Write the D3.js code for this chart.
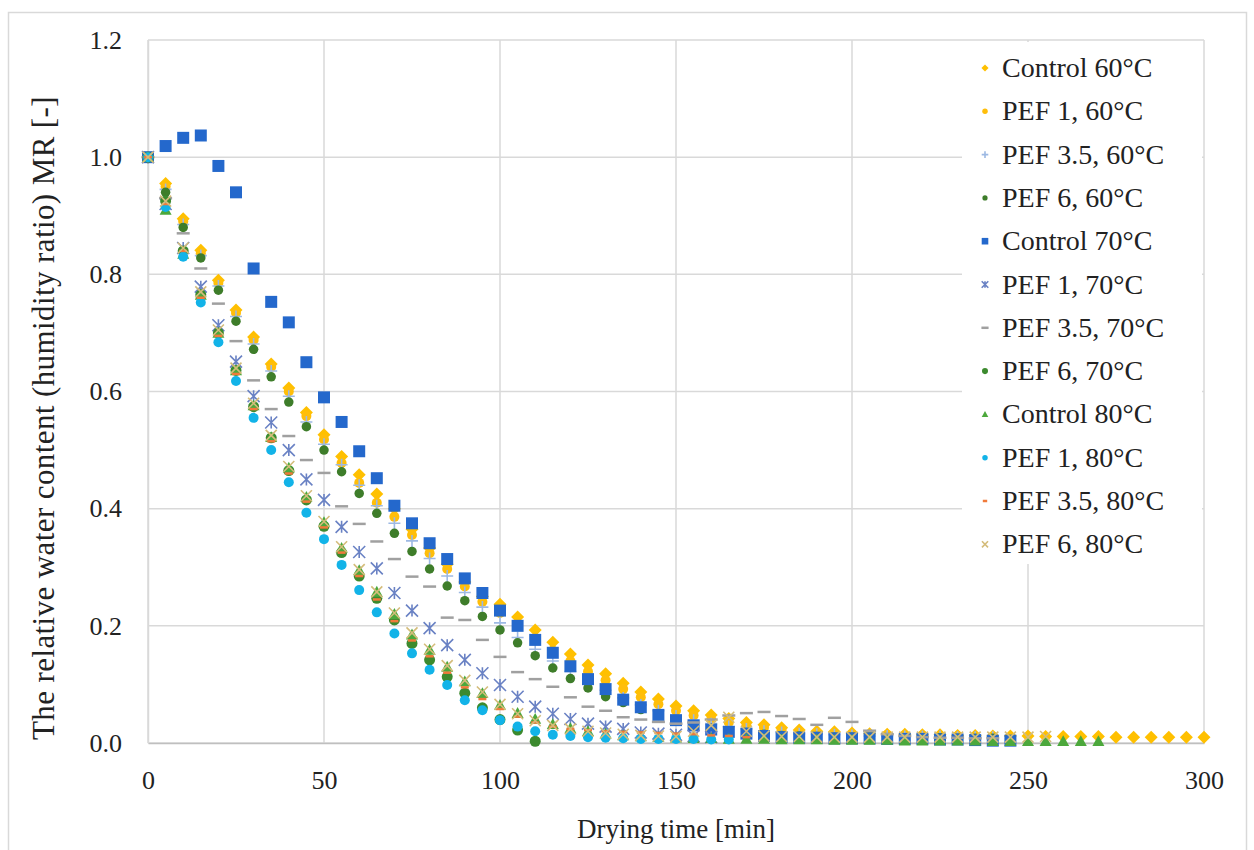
<!DOCTYPE html>
<html>
<head>
<meta charset="utf-8">
<script src="https://cdn.jsdelivr.net/npm/d3@7"></script>
<style>
  html, body { margin: 0; padding: 0; background: #fff; }
  svg { display: block; }
  svg text { font-family: "Liberation Serif", "Times New Roman", "DejaVu Serif", serif !important; fill: #222; }
</style>
</head>
<body>
<svg id="chart" width="1254" height="850"></svg>
<script>
// Drying time axis (min); every series is sampled every 5 minutes from t = 0
const step = 5;
const xTicks = [0, 50, 100, 150, 200, 250, 300];
const yTicks = [0, 0.2, 0.4, 0.6, 0.8, 1.0, 1.2];

const seriesNames = [
  "Control 60°C", "PEF 1, 60°C", "PEF 3.5, 60°C", "PEF 6, 60°C",
  "Control 70°C", "PEF 1, 70°C", "PEF 3.5, 70°C", "PEF 6, 70°C",
  "Control 80°C", "PEF 1, 80°C", "PEF 3.5, 80°C", "PEF 6, 80°C"
];

// Moisture ratio MR for each series
const control60 = [1.0,0.955,0.895,0.841,0.79,0.739,0.693,0.647,0.606,0.564,0.526,0.489,0.458,0.425,0.4,0.365,0.333,0.305,0.275,0.25,0.237,0.215,0.193,0.172,0.152,0.133,0.118,0.102,0.087,0.075,0.063,0.055,0.048,0.042,0.035,0.031,0.026,0.022,0.02,0.019,0.017,0.016,0.015,0.015,0.014,0.014,0.013,0.013,0.012,0.012,0.012,0.011,0.011,0.011,0.011,0.01,0.01,0.01,0.01,0.01,0.01];
const pef1_60 = [1.0,0.95,0.89,0.836,0.785,0.734,0.688,0.642,0.6,0.558,0.518,0.478,0.444,0.41,0.386,0.355,0.324,0.297,0.267,0.241,0.222,0.2,0.178,0.158,0.14,0.122,0.107,0.092,0.078,0.066,0.055,0.047,0.04,0.035,0.03,0.026,0.022,0.019,0.017,0.016,0.015,0.014,0.014,0.013,0.013,0.012,0.012,0.011,0.011];
const pef35_60 = [1.0,0.945,0.885,0.832,0.78,0.728,0.681,0.635,0.592,0.548,0.51,0.475,0.44,0.405,0.375,0.345,0.315,0.285,0.257,0.232,0.205,0.18,0.16,0.14,0.122,0.105,0.09,0.077,0.065,0.055,0.046,0.039,0.033,0.028,0.024,0.02,0.018,0.016,0.015,0.014,0.013,0.012,0.012,0.011,0.011,0.011,0.01,0.01,0.01];
const pef6_60 = [1.0,0.94,0.88,0.828,0.773,0.72,0.672,0.625,0.582,0.54,0.5,0.463,0.426,0.392,0.358,0.327,0.297,0.268,0.243,0.216,0.193,0.171,0.149,0.128,0.11,0.094,0.079,0.069,0.057,0.047,0.038,0.031,0.025,0.021,0.018,0.015,0.013,0.012,0.011,0.01,0.01,0.01,0.009,0.009,0.009,0.009,0.008,0.008,0.008];
const control70 = [1.0,1.019,1.033,1.037,0.985,0.94,0.81,0.753,0.718,0.65,0.59,0.548,0.498,0.452,0.405,0.375,0.341,0.314,0.281,0.256,0.226,0.2,0.176,0.154,0.131,0.109,0.092,0.074,0.061,0.048,0.039,0.03,0.023,0.019,0.016,0.012,0.01,0.009,0.009,0.008,0.008,0.008,0.007,0.007,0.007,0.006,0.006,0.005,0.004,0.004];
const pef1_70 = [1.0,0.92,0.845,0.779,0.713,0.651,0.592,0.547,0.5,0.45,0.415,0.369,0.326,0.298,0.256,0.226,0.196,0.167,0.142,0.119,0.099,0.079,0.062,0.05,0.041,0.033,0.028,0.024,0.018,0.016,0.014,0.012,0.01];
const pef35_70 = [1.0,0.93,0.87,0.81,0.75,0.686,0.619,0.57,0.524,0.483,0.461,0.404,0.374,0.344,0.314,0.284,0.267,0.214,0.21,0.176,0.147,0.121,0.109,0.096,0.078,0.062,0.055,0.044,0.04,0.036,0.033,0.035,0.04,0.047,0.051,0.053,0.046,0.041,0.031,0.043,0.036,0.021,0.015,0.012,0.01,0.009,0.009,0.008,0.008];
const pef6_70 = [1.0,0.925,0.84,0.765,0.7,0.636,0.574,0.521,0.465,0.415,0.37,0.325,0.285,0.247,0.21,0.17,0.142,0.113,0.085,0.06,0.04,0.022,0.003];
const control80 = [1.0,0.91,0.835,0.765,0.7,0.636,0.576,0.522,0.47,0.42,0.377,0.333,0.295,0.258,0.22,0.185,0.159,0.13,0.105,0.085,0.065,0.051,0.041,0.032,0.025,0.02,0.016,0.013,0.011,0.01,0.009,0.008,0.008,0.007,0.007,0.007,0.006,0.006,0.006,0.005,0.005,0.005,0.005,0.004,0.004,0.004,0.004,0.004,0.003,0.003,0.003,0.003,0.003,0.003,0.003];
const pef1_80 = [1.0,0.915,0.83,0.752,0.684,0.618,0.555,0.5,0.445,0.393,0.348,0.304,0.261,0.223,0.187,0.153,0.125,0.099,0.073,0.056,0.039,0.028,0.02,0.014,0.012,0.01,0.009,0.008,0.007,0.007,0.007,0.007,0.006,0.006];
const pef35_80 = [1.0,0.92,0.84,0.76,0.695,0.63,0.57,0.515,0.46,0.412,0.368,0.325,0.285,0.245,0.208,0.175,0.148,0.12,0.095,0.075,0.058,0.045,0.035,0.028,0.024,0.022,0.02,0.019,0.018,0.017,0.016,0.015,0.013,0.012,0.01];
const pef6_80 = [1.0,0.925,0.845,0.77,0.705,0.64,0.58,0.525,0.472,0.422,0.378,0.335,0.296,0.258,0.222,0.188,0.16,0.132,0.107,0.087,0.066,0.05,0.038,0.03,0.024,0.02,0.017,0.015,0.013,0.012,0.011,0.02,0.03,0.044,0.02,0.012,0.011,0.011,0.01,0.01,0.01,0.01,0.01,0.01,0.01,0.01,0.01,0.01,0.01,0.01,0.01,0.011];

const seriesValues = [control60, pef1_60, pef35_60, pef6_60, control70, pef1_70, pef35_70, pef6_70, control80, pef1_80, pef35_80, pef6_80];

// Marker styles, one per series
const styles = [
  { shape: "diamond", color: "#FFC000", size: 13 },
  { shape: "circle",  color: "#FFBE0A", size: 10 },
  { shape: "plus",    color: "#9DB9E3", size: 12 },
  { shape: "circle",  color: "#3E7D2A", size: 9.5 },
  { shape: "square",  color: "#2468CC", size: 12 },
  { shape: "star",    color: "#6A82C4", size: 12 },
  { shape: "dash",    color: "#A0A0A0", size: 13 },
  { shape: "circle",  color: "#3C8A2E", size: 11 },
  { shape: "triangle",color: "#4CA83C", size: 12 },
  { shape: "circle",  color: "#12B3E8", size: 10 },
  { shape: "dash",    color: "#F07A3A", size: 8 },
  { shape: "cross",   color: "#D4BC7A", size: 11 }
];

const FONT = '"Liberation Serif", "Times New Roman", "DejaVu Serif", serif';
const svg = d3.select("#chart").attr("font-family", FONT);
const plot = { left: 148, right: 1204, top: 40, bottom: 743 };

// Outer frame
svg.append("rect").attr("x", 8.5).attr("y", 12.5).attr("width", 1238).attr("height", 850)
  .attr("fill", "#fff").attr("stroke", "#d9d9d9").attr("stroke-width", 1.5);

const x = d3.scaleLinear().domain([0, 300]).range([plot.left, plot.right]);
const y = d3.scaleLinear().domain([0, 1.2]).range([plot.bottom, plot.top]);

// Grid lines
const grid = svg.append("g");
grid.selectAll("line.h").data(yTicks).join("line")
  .attr("x1", plot.left).attr("x2", plot.right)
  .attr("y1", d => y(d)).attr("y2", d => y(d))
  .attr("stroke", "#d9d9d9").attr("stroke-width", 1.5);
grid.selectAll("line.v").data(xTicks).join("line")
  .attr("y1", plot.top).attr("y2", plot.bottom)
  .attr("x1", d => x(d)).attr("x2", d => x(d))
  .attr("stroke", "#d9d9d9").attr("stroke-width", 1.5);

// Axes (labels only; lines come from the grid)
const xAxis = svg.append("g").attr("transform", `translate(0,${plot.bottom})`)
  .call(d3.axisBottom(x).tickValues(xTicks).tickSize(0).tickPadding(28).tickFormat(d3.format("d")));
xAxis.attr("font-family", null);
xAxis.select(".domain").attr("stroke", "#bfbfbf").attr("stroke-width", 1.5);
xAxis.selectAll("text").attr("font-size", 26).attr("fill", "#222").style("font-family", FONT);

const yAxis = svg.append("g").attr("transform", `translate(${plot.left},0)`)
  .call(d3.axisLeft(y).tickValues(yTicks).tickSize(0).tickPadding(26).tickFormat(d3.format(".1f")));
yAxis.attr("font-family", null);
yAxis.select(".domain").attr("stroke", "#d9d9d9").attr("stroke-width", 1.5);
yAxis.selectAll("text").attr("font-size", 26).attr("fill", "#222").style("font-family", FONT);

// Axis titles
svg.append("text").attr("x", (plot.left + plot.right) / 2).attr("y", 838)
  .attr("text-anchor", "middle").attr("font-size", 27).text("Drying time [min]");
svg.append("text").attr("transform", `translate(54,418) rotate(-90)`)
  .attr("text-anchor", "middle").attr("font-size", 31).attr("letter-spacing", 0.4)
  .text("The relative water content (humidity ratio) MR [-]");

// Marker path generator
function markerPath(shape, s) {
  const h = s / 2;
  switch (shape) {
    case "diamond": return `M0,${-h}L${h},0L0,${h}L${-h},0Z`;
    case "square": return `M${-h},${-h}H${h}V${h}H${-h}Z`;
    case "circle": return d3.symbol(d3.symbolCircle, Math.PI * h * h)();
    case "triangle": return `M0,${-h}L${h},${h * 0.8}L${-h},${h * 0.8}Z`;
    case "plus": return `M${-h},0H${h}M0,${-h}V${h}`;
    case "dash": return `M${-h},0H${h}`;
    case "cross": return `M${-h},${-h}L${h},${h}M${-h},${h}L${h},${-h}`;
    case "star": return `M${-h},${-h}L${h},${h}M${-h},${h}L${h},${-h}M0,${-h}V${h}`;
  }
}
const isStroke = s => ["plus", "dash", "cross", "star"].includes(s);

function drawMarker(g, st, cx, cy, scale = 1) {
  const p = g.append("path").attr("d", markerPath(st.shape, st.size * scale))
    .attr("transform", `translate(${cx},${cy})`);
  if (isStroke(st.shape)) {
    p.attr("fill", "none").attr("stroke", st.color)
      .attr("stroke-width", st.shape === "dash" ? 2.5 : 1.6);
  } else {
    p.attr("fill", st.color);
  }
}

// Data points
const pts = svg.append("g");
seriesValues.forEach((vals, si) => {
  const st = styles[si];
  const g = pts.append("g").attr("class", "series");
  vals.forEach((v, i) => drawMarker(g, st, x(i * step), y(v)));
});

// Legend
const legend = svg.append("g");
legend.append("rect").attr("x", 962).attr("y", 42).attr("width", 240).attr("height", 522).attr("fill", "#fff");
seriesNames.forEach((name, i) => {
  const cy = 68 + i * 43.3;
  drawMarker(legend, styles[i], 985, cy, 0.55);
  legend.append("text").attr("x", 1002).attr("y", cy + 9).attr("font-size", 28)
    .attr("font-family", FONT).text(name);
});
</script>
</body>
</html>
